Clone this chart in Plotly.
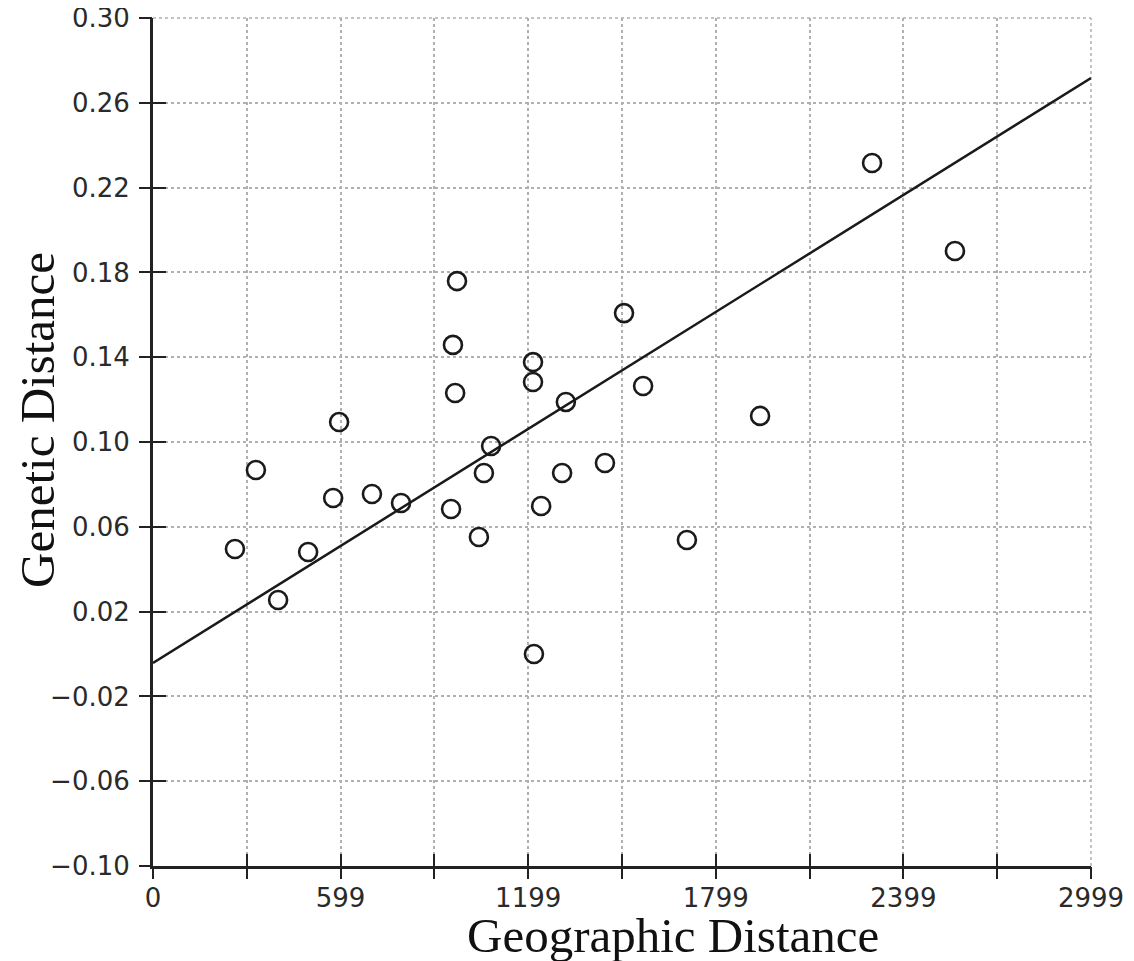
import numpy as np
import plotly.graph_objects as go

# Data
geo_distance = [262, 329, 400, 496, 576, 595, 700, 793, 953, 959, 966, 972,
                1042, 1058, 1081, 1215, 1215, 1218, 1241, 1308, 1320, 1445,
                1506, 1567, 1707, 1941, 2299, 2564]
genetic_distance = [0.0495, 0.0868, 0.0255, 0.0481, 0.0736, 0.1094, 0.0755,
                    0.0712, 0.0684, 0.1458, 0.1231, 0.1759, 0.0552, 0.0854,
                    0.0981, 0.1377, 0.1283, 0.0000, 0.0698, 0.0854, 0.1189,
                    0.0901, 0.1608, 0.1264, 0.0538, 0.1123, 0.2316, 0.1901]

# Regression line parameters
fit_intercept = -0.0042
fit_slope = 0.0000920

x_range = [0, 2999]
y_range = [-0.10, 0.30]
x_tick_values = [0, 299.9, 599.8, 899.7, 1199.6, 1499.5, 1799.4, 2099.3, 2399.2, 2699.1, 2999]
x_tick_labels = ["0", "", "599", "", "1199", "", "1799", "", "2399", "", "2999"]
y_tick_values = [-0.10, -0.06, -0.02, 0.02, 0.06, 0.10, 0.14, 0.18, 0.22, 0.26, 0.30]

x_title = "Geographic Distance"
y_title = "Genetic Distance"

line_x = np.array(x_range, dtype=float)
line_y = fit_intercept + fit_slope * line_x

fig = go.Figure()
fig.add_trace(go.Scatter(x=line_x, y=line_y, mode="lines",
                         line=dict(color="#1a1a1a", width=2.5),
                         showlegend=False, hoverinfo="skip"))
fig.add_trace(go.Scatter(x=geo_distance, y=genetic_distance, mode="markers",
                         marker=dict(symbol="circle-open", size=18,
                                     color="#1a1a1a", line=dict(width=2.6, color="#1a1a1a")),
                         showlegend=False))

tick_font = dict(family="DejaVu Sans", size=26, color="#2a2a2a")
title_font = dict(family="Liberation Serif", size=49, color="#111111")
grid_color = "#b0b0b0"
grid_common = dict(showgrid=True, gridcolor=grid_color, griddash="dot", gridwidth=1.5,
                   zeroline=False, automargin=False, ticklabeloverflow="allow")

fig.update_layout(
    width=1126, height=953,
    margin=dict(l=145, r=43, t=10, b=95),
    paper_bgcolor="white", plot_bgcolor="white",
    xaxis=dict(range=x_range, tickmode="array", tickvals=x_tick_values,
               ticktext=x_tick_labels, ticks="inside", ticklen=12, tickwidth=2,
               tickcolor="#222222", showline=True, linecolor="#222222", linewidth=3,
               tickfont=tick_font, ticklabelstandoff=7,
               **grid_common),
    yaxis=dict(range=y_range, tickmode="array", tickvals=y_tick_values,
               tickformat=".2f", ticks="inside", ticklen=13, tickwidth=2,
               tickcolor="#222222", showline=True, linecolor="#222222", linewidth=3,
               tickfont=tick_font, ticklabelstandoff=15,
               **grid_common),
    xaxis2=dict(range=x_range, overlaying="x", side="bottom", anchor="y",
                tickmode="array", tickvals=x_tick_values, showticklabels=False,
                ticks="outside", ticklen=12, tickwidth=2, tickcolor="#222222",
                showgrid=False, zeroline=False, showline=False, automargin=False),
    yaxis2=dict(range=y_range, overlaying="y", side="left", anchor="x",
                tickmode="array", tickvals=y_tick_values, showticklabels=False,
                ticks="outside", ticklen=13, tickwidth=2, tickcolor="#222222",
                showgrid=False, zeroline=False, showline=False, automargin=False),
    annotations=[
        dict(text=x_title, xref="paper", yref="paper", x=0.554, y=-0.0814,
             xanchor="center", yanchor="middle", showarrow=False, font=title_font),
        dict(text=y_title, xref="paper", yref="paper", x=-0.1226, y=0.526,
             xanchor="center", yanchor="middle", showarrow=False, font=title_font,
             textangle=-90),
    ],
    shapes=[
        # dotted frame lines on the top and right edges of the plotting area
        dict(type="line", xref="paper", yref="paper", x0=0, x1=1, y0=1, y1=1,
             line=dict(color=grid_color, width=1.5, dash="dot"), layer="below"),
        dict(type="line", xref="paper", yref="paper", x0=1, x1=1, y0=0, y1=1,
             line=dict(color=grid_color, width=1.5, dash="dot"), layer="below"),
    ],
)
# invisible trace to activate the secondary axes
fig.add_trace(go.Scatter(x=[x_range[0]], y=[y_range[0]], xaxis="x2", yaxis="y2",
                         mode="markers", marker=dict(opacity=0), showlegend=False,
                         hoverinfo="skip"))

fig.write_html("out.html")
